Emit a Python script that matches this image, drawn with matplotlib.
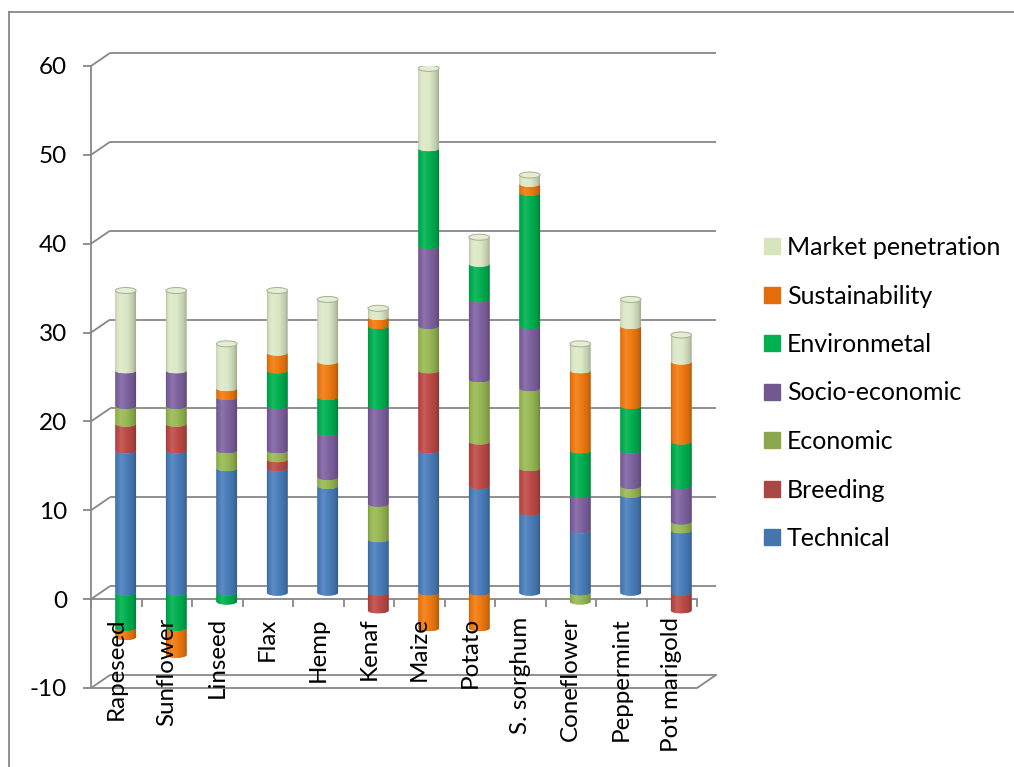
import numpy as np
import matplotlib
matplotlib.use("Agg")
import matplotlib.pyplot as plt
from matplotlib.path import Path
from matplotlib.patches import PathPatch, Ellipse
from matplotlib.lines import Line2D
import matplotlib.colors as mcolors

# ---------------- data ----------------
categories = ["Rapeseed", "Sunflower", "Linseed", "Flax", "Hemp", "Kenaf",
              "Maize", "Potato", "S. sorghum", "Coneflower", "Peppermint",
              "Pot marigold"]
technical = [16, 16, 14, 14, 12, 6, 16, 12, 9, 7, 11, 7]
breeding = [3, 3, 0, 1, 0, -2, 9, 5, 5, 0, 0, -2]
economic = [2, 2, 2, 1, 1, 4, 5, 7, 9, -1, 1, 1]
socio_economic = [4, 4, 6, 5, 5, 11, 9, 9, 7, 4, 4, 4]
environmetal = [-4, -4, -1, 4, 4, 9, 11, 4, 15, 5, 5, 5]
sustainability = [-1, -3, 1, 2, 4, 1, -4, -4, 1, 9, 9, 9]
market_penetration = [9, 9, 5, 7, 7, 1, 9, 3, 1, 3, 3, 3]

series_names = ["Technical", "Breeding", "Economic", "Socio-economic",
                "Environmetal", "Sustainability", "Market penetration"]
series_values = [technical, breeding, economic, socio_economic,
                 environmetal, sustainability, market_penetration]
series_colors = ["#4A7EBB", "#BE4B48", "#98B954", "#7F63A1",
                 "#00B050", "#F07A10", "#DCE8C6"]
legend_colors = ["#4674AC", "#AA4643", "#8CA84E", "#71588F",
                 "#00B050", "#E46C0A", "#D7E4BD"]
y_ticks = [-10, 0, 10, 20, 30, 40, 50, 60]

GRAY = "#878787"
FONT = "Lato"
plt.rcParams['font.family'] = [FONT, 'DejaVu Sans']

W, H = 1014, 767
fig = plt.figure(figsize=(W / 100, H / 100), dpi=100)
fig.patch.set_facecolor("white")
renderer = fig.canvas.get_renderer()


def fit_size(text, target_px, ref_size=20.0):
    t = fig.text(0, 0, text, fontsize=ref_size)
    w = t.get_window_extent(renderer=renderer).width
    t.remove()
    return ref_size * target_px / w


cat_size = fit_size("Rapeseed", 103)

# front plane of the pseudo-3D frame
ax = fig.add_axes([91 / W, 1 - 688 / H, (697 - 91) / W, (688 - 66) / H])
ax.set_xlim(-0.5, len(categories) - 0.5)
ax.set_ylim(-10, 60)
ax.set_facecolor("none")
ax.set_autoscale_on(False)

# pixel -> data units
p0 = ax.transData.transform((0, 0))
p1 = ax.transData.transform((1, 1))
ux, uy = p1[0] - p0[0], p1[1] - p0[1]
DX, DY = 19 / ux, 13 / uy           # depth of the 3-D box in data units

x0, x1 = -0.5, len(categories) - 0.5
lw = 1.3

# walls: side-wall diagonals + back-wall gridlines
for v in y_ticks:
    ax.plot([x0, x0 + DX], [v, v + DY], color=GRAY, lw=lw, zorder=1,
            clip_on=False, solid_capstyle='butt')
    ax.plot([x0 + DX, x1 + DX], [v + DY, v + DY], color=GRAY, lw=lw,
            zorder=1, clip_on=False, solid_capstyle='butt')
# floor (at -10)
ax.plot([x0, x1, x1 + DX], [-10, -10, -10 + DY], color=GRAY, lw=lw,
        zorder=1, clip_on=False)

# spines / axes
for s in ["top", "right"]:
    ax.spines[s].set_visible(False)
ax.spines["left"].set_color(GRAY)
ax.spines["left"].set_linewidth(lw)
ax.spines["bottom"].set_position(("data", 0))
ax.spines["bottom"].set_color(GRAY)
ax.spines["bottom"].set_linewidth(lw)
ax.spines["left"].set_zorder(1.5)
ax.spines["bottom"].set_zorder(1.5)

ax.set_yticks(y_ticks)
ax.set_yticklabels([str(v) for v in y_ticks])
ax.tick_params(axis="y", direction="out", length=5.8, width=lw, color=GRAY,
               labelsize=17.5, pad=11.5)
ax.set_xticks(range(len(categories)))
ax.set_xticklabels(categories, rotation=90, fontsize=cat_size)
ax.tick_params(axis="x", which="major", length=0, pad=13)
ax.set_xticks(np.arange(-0.5, len(categories), 1), minor=True)
ax.tick_params(axis="x", which="minor", direction="out", length=5.5,
               width=lw, color=GRAY)
for lab in ax.get_xticklabels() + ax.get_yticklabels():
    lab.set_color("black")
ax.xaxis.set_zorder(5)

# ---------------- cylinders ----------------
bar_w = 20.7 / ux
a = bar_w / 2
b = 3.0 / uy
theta = np.linspace(np.pi, 2 * np.pi, 40)

tpos = np.array([0.0, 0.06, 0.28, 0.55, 0.85, 1.0])
fval = np.array([0.82, 0.95, 1.07, 1.0, 0.88, 0.74])
tt = np.linspace(0, 1, 64)
prof = np.interp(tt, tpos, fval)


def shade(color):
    c = np.array(mcolors.to_rgb(color))
    out = np.empty((1, len(tt), 3))
    for k, f in enumerate(prof):
        if f <= 1:
            out[0, k] = c * f
        else:
            out[0, k] = c + (1 - c) * (f - 1) * 1.6
    return np.clip(out, 0, 1)


def seg_path(xc, lo, hi):
    top = np.column_stack([xc + a * np.cos(theta), hi + b * np.sin(theta)])
    bot = np.column_stack([xc + a * np.cos(theta[::-1]),
                           lo + b * np.sin(theta[::-1])])
    verts = np.vstack([top, bot, top[:1]])
    codes = [Path.MOVETO] + [Path.LINETO] * (len(verts) - 2) + [Path.CLOSEPOLY]
    return Path(verts, codes)


for i in range(len(categories)):
    xc = i + DX / 2
    yb = DY / 2
    pos, neg = 0.0, 0.0
    top_color = None
    for vals, col in zip(series_values, series_colors):
        v = vals[i]
        if v > 0:
            lo, hi = pos, pos + v
            pos = hi
            top_color = col
        elif v < 0:
            lo, hi = neg + v, neg
            neg = lo
        else:
            continue
        path = seg_path(xc, lo + yb, hi + yb)
        patch = PathPatch(path, facecolor=col, edgecolor="none", zorder=3)
        ax.add_patch(patch)
        im = ax.imshow(shade(col), extent=[xc - a, xc + a, lo + yb - b,
                                           hi + yb + b],
                       aspect="auto", interpolation="bilinear", zorder=3.1)
        im.set_clip_path(patch)
    if pos > 0:
        c = np.array(mcolors.to_rgb(top_color))
        cap = Ellipse((xc, pos + yb), 2 * a, 2 * b,
                      facecolor=c + (1 - c) * 0.25,
                      edgecolor=c * 0.75, lw=0.7, zorder=3.2)
        ax.add_patch(cap)

ax.set_xlim(-0.5, len(categories) - 0.5)
ax.set_ylim(-10, 60)

# ---------------- legend ----------------
handles = [Line2D([], [], marker="s", linestyle="none", markersize=11,
                  markerfacecolor=c, markeredgecolor=c)
           for c in legend_colors[::-1]]
fig.legend(handles, series_names[::-1], loc="upper left",
           bbox_to_anchor=(764 / W, 1 - 236 / H), frameon=False,
           fontsize=18, handlelength=0.62, handletextpad=0.3,
           labelspacing=1.02, borderpad=0, borderaxespad=0)

# chart-area border (partly cropped in the original)
fig.add_artist(Line2D([9 / W, 1], [1 - 12 / H, 1 - 12 / H],
                      transform=fig.transFigure, color=GRAY, lw=1.3))
fig.add_artist(Line2D([9 / W, 9 / W], [0, 1 - 12 / H],
                      transform=fig.transFigure, color=GRAY, lw=1.3))

fig.savefig("out.png", dpi=100)
